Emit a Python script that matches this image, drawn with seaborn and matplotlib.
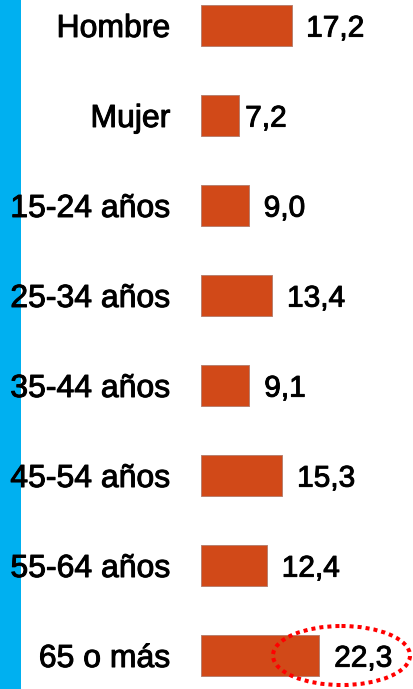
import numpy as np
import pandas as pd
import matplotlib
matplotlib.use("Agg")
import matplotlib.pyplot as plt
import matplotlib.patheffects as pe
from matplotlib.patches import Rectangle, Ellipse
import seaborn as sns

# ── datos ─────────────────────────────────────────────
categorias = ['Hombre', 'Mujer', '15-24 años', '25-34 años', '35-44 años',
              '45-54 años', '55-64 años', '65 o más']
valores = [17.2, 7.2, 9.0, 13.4, 9.1, 15.3, 12.4, 22.3]

BAR_COLOR = '#D14918'
BLUE = '#00B0F0'

sns.set_theme(style="white")
plt.rcParams['font.family'] = ['Liberation Sans', 'DejaVu Sans']

df = pd.DataFrame({'cat': categorias, 'val': valores})
grueso = [pe.withStroke(linewidth=0.7, foreground='black')]

fig = plt.figure(figsize=(4.14, 6.89), dpi=100)
fig.patch.set_facecolor('white')
ax = fig.add_axes([201 / 414, 0, 1 - 201 / 414, 1])
ax.set_facecolor('none')

# franja azul a la izquierda
fig.add_artist(Rectangle((0, 0), 21 / 414, 1, transform=fig.transFigure,
                         facecolor=BLUE, edgecolor='none', zorder=-5))

sns.barplot(data=df, x='val', y='cat', orient='h', color=BAR_COLOR,
            saturation=1, width=0.46, edgecolor='#B88070', linewidth=0.7, ax=ax)

ax.set_xlim(0, 213 / 5.3)
ax.set_ylim(7.372, -0.283)
ax.set_xlabel('')
ax.set_ylabel('')
ax.set_xticks([])
ax.tick_params(axis='y', length=0, pad=22, labelsize=23, labelcolor='black')
for lbl in ax.get_yticklabels():
    lbl.set_path_effects(grueso)
for s in ax.spines.values():
    s.set_visible(False)

# etiquetas de valores
offsets = [14, 6, 15, 15, 15, 15, 15, 15]
for i, (v, off) in enumerate(zip(valores, offsets)):
    ax.annotate(f'{v:.1f}'.replace('.', ','), xy=(v, i),
                xytext=(off * 0.72, -8.0), textcoords='offset points',
                ha='left', va='baseline', fontsize=21.5, color='black',
                path_effects=grueso)

# elipse punteada sobre el último valor
ax.add_patch(Ellipse((140.5 / 5.3, 7.0), 137 / 5.3, 0.656, fill=False,
                     edgecolor='#FF0000', linewidth=2.9,
                     linestyle=(0, (1, 1)), clip_on=False, zorder=5))

fig.savefig('out.png', dpi=100, facecolor='white')
